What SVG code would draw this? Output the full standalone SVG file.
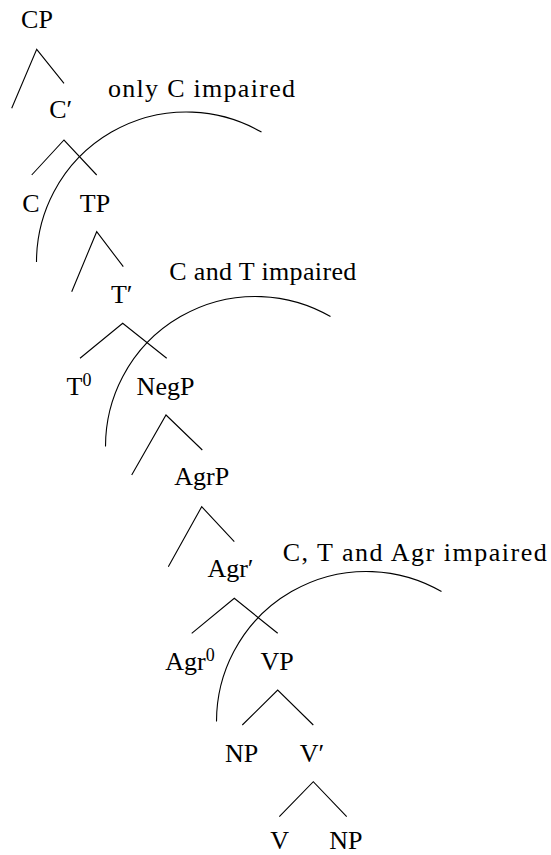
<svg xmlns="http://www.w3.org/2000/svg" width="551" height="855" viewBox="0 0 551 855">
<style>
text{font-size:26px;fill:#000}
.n{text-anchor:middle}
.sup{font-size:18px}
path{fill:none;stroke:#000;stroke-width:1.1}
</style>
<rect width="551" height="855" fill="#fff"/>
<g id="connectors">
<path d="M11.7,108.3 L36.7,49.3 L64,83.3"/>
<path d="M31.7,175 L64,140 L96.7,175"/>
<path d="M71.7,291.7 L96.7,231.7 L123.3,266.7"/>
<path d="M80,358.3 L122.7,323.3 L166.7,358.3"/>
<path d="M131.7,475 L166,415 L202.3,450"/>
<path d="M168.3,566.7 L201.7,506.7 L234.3,541.7"/>
<path d="M191.7,633.3 L234.3,598.3 L277.7,633.3"/>
<path d="M242.3,725 L277.7,690 L313.3,725"/>
<path d="M279.3,816.7 L313.3,781.7 L346.7,816.7"/>
</g>
<g id="arcs">
<path id="arc1" d="M36.5,262 A150,150 0 0 1 261.5,132.1"/>
<path id="arc2" d="M105.5,446.5 A150,150 0 0 1 330.5,316.6"/>
<path id="arc3" d="M216.5,721.5 A150,150 0 0 1 441.5,591.6"/>
</g>
<g font-family="Liberation Serif, Times New Roman, DejaVu Serif, serif">
<g id="CP"><text class="n" x="37" y="28.3">CP</text></g>
<g id="Cbar"><text class="n" x="60.8" y="118.3">C′</text></g>
<g id="C"><text class="n" x="31" y="211.7">C</text></g>
<g id="TP"><text class="n" x="95" y="211.7">TP</text></g>
<g id="Tbar"><text class="n" x="121.7" y="303.3">T′</text></g>
<g id="T0"><text class="n" x="79" y="395">T<tspan class="sup" dy="-9">0</tspan></text></g>
<g id="NegP"><text class="n" x="165.5" y="395">NegP</text></g>
<g id="AgrP"><text class="n" x="201.7" y="485">AgrP</text></g>
<g id="Agrbar"><text class="n" x="230.5" y="576.7">Agr′</text></g>
<g id="Agr0"><text class="n" x="190" y="670">Agr<tspan class="sup" dy="-9">0</tspan></text></g>
<g id="VP"><text class="n" x="277" y="670">VP</text></g>
<g id="NP1"><text class="n" x="241.7" y="761.7">NP</text></g>
<g id="Vbar"><text class="n" x="312" y="761.7">V′</text></g>
<g id="V"><text class="n" x="279.7" y="848.5">V</text></g>
<g id="NP2"><text class="n" x="345.8" y="848.5">NP</text></g>
<g id="label1"><text x="108" y="96.7" textLength="187">only C impaired</text></g>
<g id="label2"><text x="169.3" y="280" textLength="187">C and T impaired</text></g>
<g id="label3"><text x="282.7" y="561" textLength="264">C, T and Agr impaired</text></g>
</g>
</svg>
